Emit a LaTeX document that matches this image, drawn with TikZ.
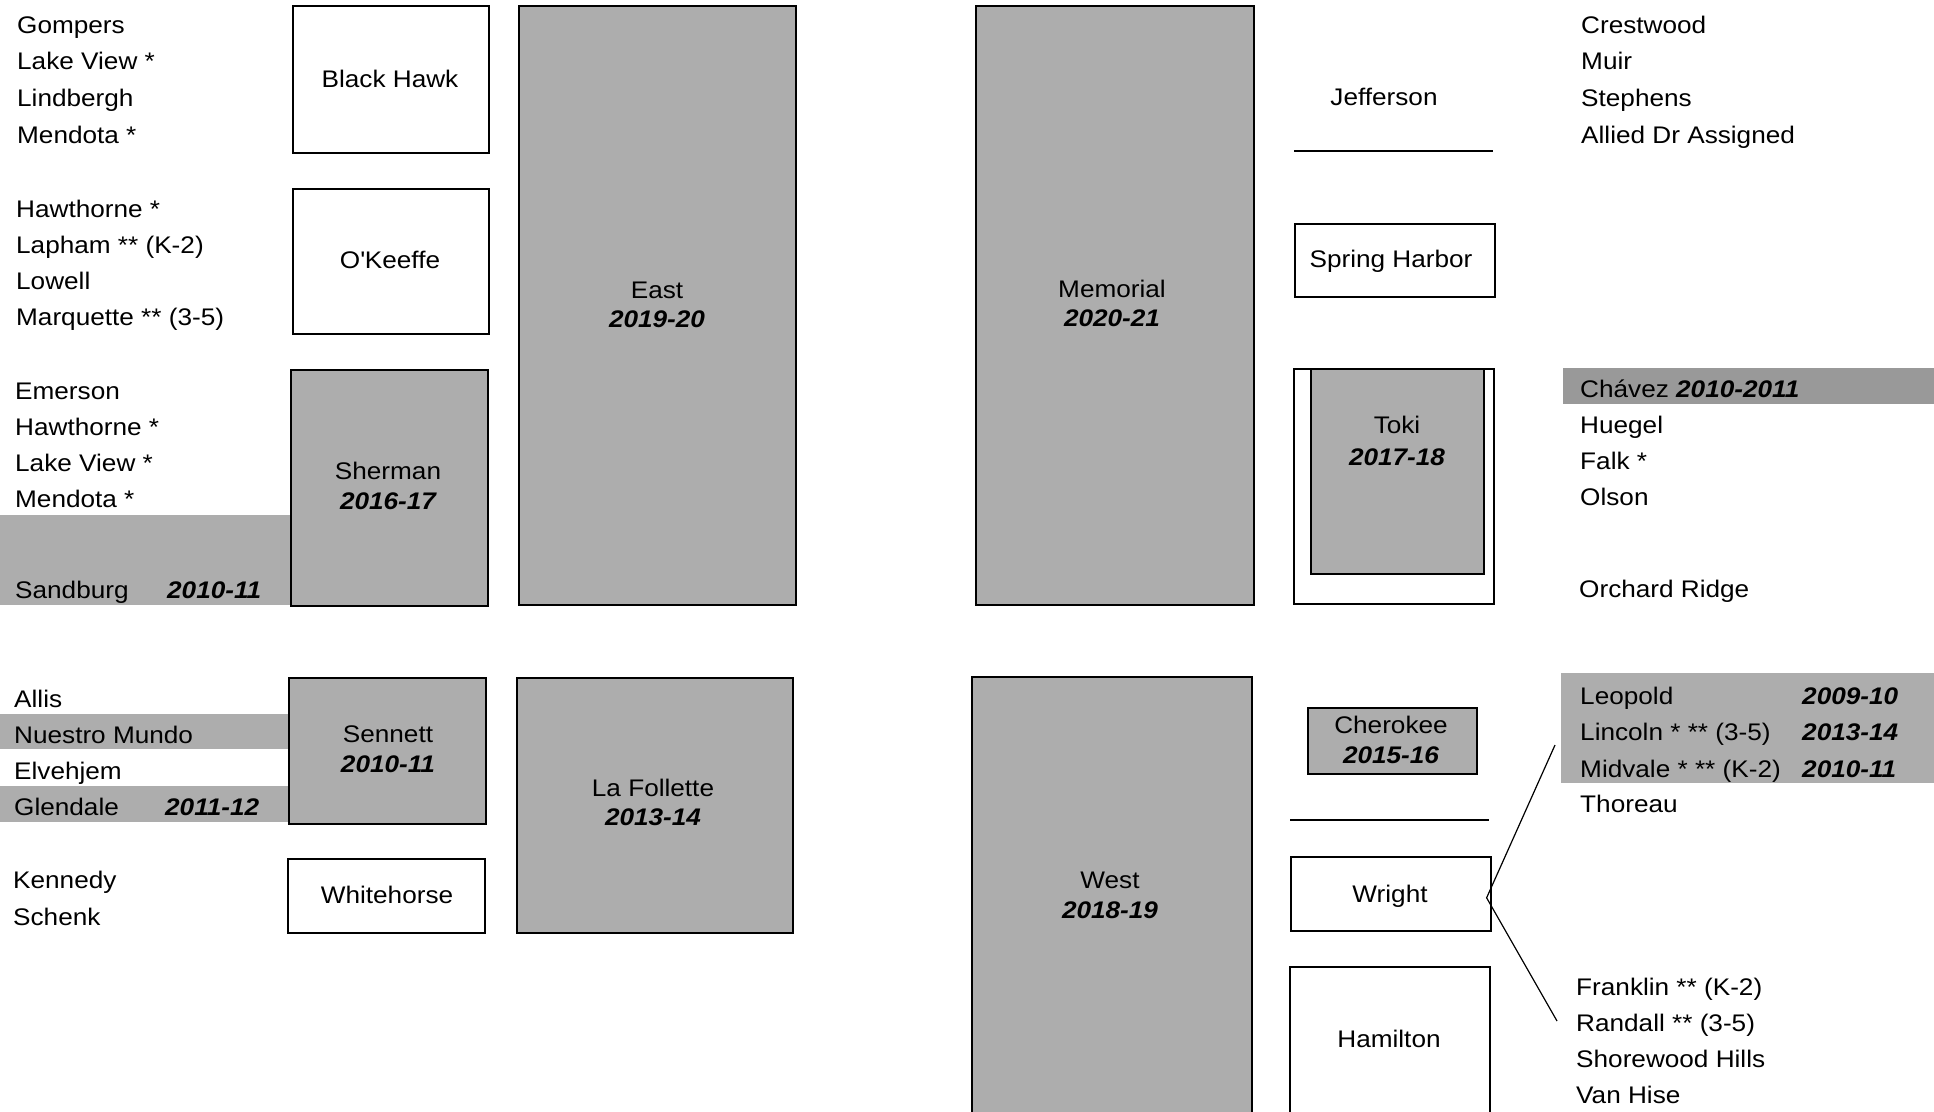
\documentclass[tikz,border=0pt]{standalone}
\usepackage{fontspec}
\setmainfont{Liberation Sans}[FakeStretch=1.09]
\definecolor{shade}{gray}{0.68}
\definecolor{shadedark}{gray}{0.6}
\begin{document}
\begin{tikzpicture}[x=1pt,y=-1pt,
  lst/.style={anchor=base west, inner sep=0pt, font=\fontsize{24}{28}\selectfont},
  lbl/.style={anchor=base, inner sep=0pt, font=\fontsize{24}{28}\selectfont},
  yr/.style={anchor=base, inner sep=0pt, font=\fontsize{24}{28}\selectfont\bfseries\itshape},
  yrl/.style={anchor=base west, inner sep=0pt, font=\fontsize{24}{28}\selectfont\bfseries\itshape},
  wbox/.style={draw=black, line width=1.6pt, fill=white, inner sep=0pt, anchor=north west},
  gbox/.style={draw=black, line width=1.6pt, fill=shade, inner sep=0pt, anchor=north west},
  band/.style={fill=shade, draw=none, inner sep=0pt, anchor=north west},
  rulel/.style={draw=black, line width=1.6pt},
  conn/.style={draw=black, line width=1.2pt}]
\useasboundingbox (0,0) rectangle (1934,1111);
\clip (0,0) rectangle (1934,1111);

% ---------- bands ----------
\node (sandband) [band, minimum width=290pt, minimum height=90pt] at (0,515) {};
\node (nuesband) [band, minimum width=288pt, minimum height=35pt] at (0,714) {};
\node (glenband) [band, minimum width=288pt, minimum height=36pt] at (0,786) {};
\node (chavband) [band, fill=shadedark, minimum width=372pt, minimum height=36pt] at (1563,368) {};
\node (leopband) [band, minimum width=374pt, minimum height=110pt] at (1561,673) {};

% ---------- left boxes ----------
\node (blackhawk) [wbox, minimum width=196pt, minimum height=147pt] at (292,5) {};
\node (okeeffe) [wbox, minimum width=196pt, minimum height=145pt] at (292,188) {};
\node (sherman) [gbox, minimum width=197pt, minimum height=236pt] at (290,369) {};
\node (east) [gbox, minimum width=277pt, minimum height=599pt] at (518,5) {};
\node (sennett) [gbox, minimum width=197pt, minimum height=146pt] at (288,677) {};
\node (whitehorse) [wbox, minimum width=197pt, minimum height=74pt] at (287,858) {};
\node (lafollette) [gbox, minimum width=276pt, minimum height=255pt] at (516,677) {};

% ---------- middle boxes ----------
\node (memorial) [gbox, minimum width=278pt, minimum height=599pt] at (975,5) {};
\node (west) [gbox, minimum width=280pt, minimum height=440pt] at (971,676) {};

% ---------- right boxes ----------
\coordinate (jl1) at (1294,151);
\coordinate (jl2) at (1493,151);
\draw[rulel] (jl1) -- (jl2);
\node (springharbor) [wbox, minimum width=200pt, minimum height=73pt] at (1294,223) {};
\node (tokiouter) [wbox, minimum width=200pt, minimum height=235pt] at (1293,368) {};
\node (toki) [gbox, minimum width=173pt, minimum height=205pt] at (1310,368) {};
\node (cherokee) [gbox, minimum width=169pt, minimum height=66pt] at (1307,707) {};
\coordinate (wl1) at (1290,820);
\coordinate (wl2) at (1489,820);
\draw[rulel] (wl1) -- (wl2);
\node (wright) [wbox, minimum width=200pt, minimum height=74pt] at (1290,856) {};
\node (hamilton) [wbox, minimum width=200pt, minimum height=152pt] at (1289,966) {};

% ---------- box labels ----------
\node (tBH) [lbl] at (390,87) {Black Hawk};
\node (tOK) [lbl] at (390,268) {O\textquotesingle Keeffe};
\node (tSh) [lbl] at (388,479) {Sherman};
\node (ySh) [yr] at (388,509) {2016-17};
\node (tEa) [lbl] at (657,298) {East};
\node (yEa) [yr] at (657,327) {2019-20};
\node (tSe) [lbl] at (388,742) {Sennett};
\node (ySe) [yr] at (388,772) {2010-11};
\node (tWh) [lbl] at (387,903) {Whitehorse};
\node (tLF) [lbl] at (653,796) {La Follette};
\node (yLF) [yr] at (653,825) {2013-14};
\node (tMe) [lbl] at (1112,297) {Memorial};
\node (yMe) [yr] at (1112,326) {2020-21};
\node (tWe) [lbl] at (1110,888) {West};
\node (yWe) [yr] at (1110,918) {2018-19};
\node (tJe) [lbl] at (1384,105) {Jefferson};
\node (tSH) [lbl] at (1391,267) {Spring Harbor};
\node (tTo) [lbl] at (1397,433) {Toki};
\node (yTo) [yr] at (1397,465) {2017-18};
\node (tCh) [lbl] at (1391,733) {Cherokee};
\node (yCh) [yr] at (1391,763) {2015-16};
\node (tWr) [lbl] at (1390,902) {Wright};
\node (tHa) [lbl] at (1389,1047) {Hamilton};

% ---------- left lists ----------
\foreach \t [count=\i] in {Gompers, Lake View *, Lindbergh, Mendota *}
  \node (la\i) [lst] at (17,{33+36.7*(\i-1)}) {\t};
\foreach \t [count=\i] in {Hawthorne *, Lapham ** (K-2), Lowell, Marquette ** (3-5)}
  \node (lb\i) [lst] at (16,{217+36*(\i-1)}) {\t};
\foreach \t [count=\i] in {Emerson, Hawthorne *, Lake View *, Mendota *}
  \node (lc\i) [lst] at (15,{399+36*(\i-1)}) {\t};
\node (sandburg) [lst] at (15,598) {Sandburg};
\node (ysand) [yrl] at (167,598) {2010-11};
\foreach \t [count=\i] in {Allis, Nuestro Mundo, Elvehjem, Glendale}
  \node (ld\i) [lst] at (14,{707+36*(\i-1)}) {\t};
\node (yglen) [yrl] at (165,815) {2011-12};
\node (kennedy) [lst] at (13,888) {Kennedy};
\node (schenk) [lst] at (13,925) {Schenk};

% ---------- right lists ----------
\foreach \t [count=\i] in {Crestwood, Muir, Stephens, Allied Dr Assigned}
  \node (ra\i) [lst] at (1581,{33+36.7*(\i-1)}) {\t};
\node (chavez) [lst] at (1580,397) {Chávez \textbf{\textit{2010-2011}}};
\foreach \t [count=\i] in {Huegel, Falk *, Olson}
  \node (rb\i) [lst] at (1580,{433+36*(\i-1)}) {\t};
\node (orchard) [lst] at (1579,597) {Orchard Ridge};
\node (leopold) [lst] at (1580,704) {Leopold};
\node (lincoln) [lst] at (1580,740) {Lincoln * ** (3-5)};
\node (midvale) [lst] at (1580,777) {Midvale * ** (K-2)};
\node (yleo) [yrl] at (1802,704) {2009-10};
\node (ylin) [yrl] at (1802,740) {2013-14};
\node (ymid) [yrl] at (1802,777) {2010-11};
\node (thoreau) [lst] at (1580,812) {Thoreau};
\foreach \t [count=\i] in {Franklin ** (K-2), Randall ** (3-5), Shorewood Hills, Van Hise}
  \node (rc\i) [lst] at (1576,{995+36*(\i-1)}) {\t};

% ---------- connectors ----------
\coordinate (cu) at (1555,745);
\coordinate (cd) at (1557,1021);
\draw[conn] (cu) -- ([xshift=-5pt,yshift=-4pt]wright.east) -- (cd);
\end{tikzpicture}
\end{document}
